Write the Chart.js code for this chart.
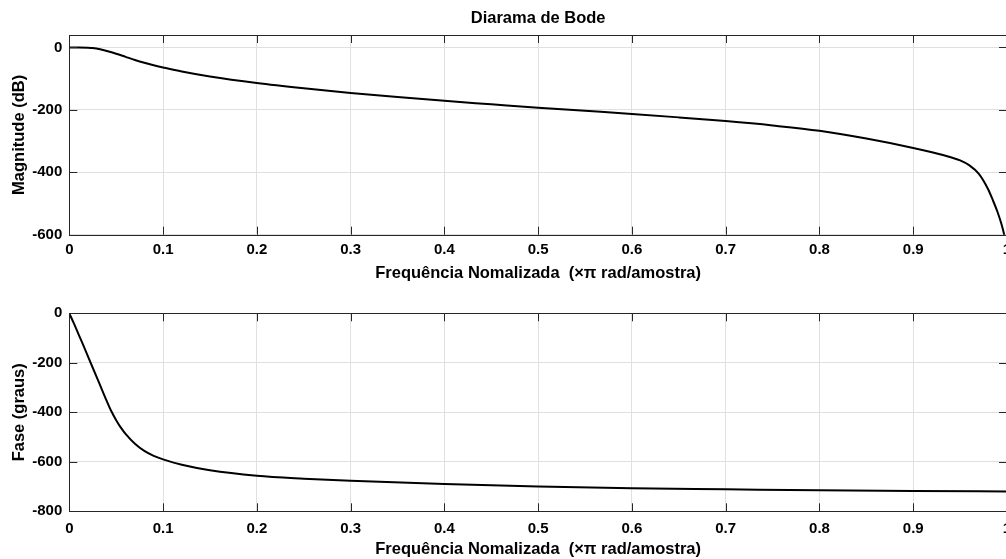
<!DOCTYPE html>
<html>
<head>
<meta charset="utf-8">
<script src="https://cdn.jsdelivr.net/npm/chart.js@4/dist/chart.umd.min.js"></script>
<style>
  html, body { margin: 0; padding: 0; background: #fff; overflow: hidden; width: 1006px; height: 559px; }
  .plot { position: absolute; left: 0; }
  #magWrap { top: 0; width: 1027px; height: 284px; }
  #phaseWrap { top: 280px; width: 1027px; height: 279px; }
</style>
</head>
<body>
<div id="magWrap" class="plot"><canvas id="magChart"></canvas></div>
<div id="phaseWrap" class="plot"><canvas id="phaseChart"></canvas></div>
<script>
// frequency response of the filter, x in units of pi rad/sample
const magFreq = [0, 0.01, 0.02, 0.025, 0.03, 0.035, 0.04, 0.05, 0.06, 0.07, 0.08, 0.09, 0.1, 0.12, 0.15,
  0.2, 0.25, 0.3, 0.35, 0.4, 0.45, 0.5, 0.55, 0.6, 0.65, 0.7, 0.75, 0.8, 0.85, 0.9, 0.92, 0.94, 0.95,
  0.96, 0.97, 0.98, 0.985, 0.99, 0.994, 0.997, 1.0];
const magDb = [0, 0, -0.5, -1.5, -4, -7, -11, -20, -30, -40, -49, -57, -64, -77, -93,
  -114, -131, -146, -159, -171, -182, -193, -203, -213, -224, -236, -250, -267, -292, -322, -336, -352, -362,
  -378, -405, -455, -490, -528, -565, -600, -650];

const phaseFreq = [0, 0.005, 0.01, 0.015, 0.02, 0.025, 0.03, 0.035, 0.04, 0.045, 0.05, 0.055, 0.06,
  0.07, 0.08, 0.09, 0.1, 0.12, 0.15, 0.2, 0.25, 0.3, 0.4, 0.5, 0.6, 0.7, 0.8, 0.9, 1.0];
const phaseDeg = [0, -42, -86, -130, -175, -220, -265, -310, -355, -397, -432, -462, -487,
  -527, -556, -576, -590, -612, -634, -656, -668, -677, -690, -700, -707, -711, -715, -718, -720];

const freqTicks = [0, 0.1, 0.2, 0.3, 0.4, 0.5, 0.6, 0.7, 0.8, 0.9, 1];
const freqLabels = ["0", "0.1", "0.2", "0.3", "0.4", "0.5", "0.6", "0.7", "0.8", "0.9", "1"];
const magTicks = [0, -200, -400, -600];
const phaseTicks = [0, -200, -400, -600, -800];

const xLabel = "Frequência Nomalizada  (\u00d7\u03c0 rad/amostra)";
const family = "'Liberation Sans', Arial, sans-serif";
const tickFont = { family: family, size: 15, weight: "bold" };
const labelFont = { family: family, size: 16.5, weight: "bold" };
const axisColor = "#262626";
const gridColor = "#e0e0e0";

// box around the axes plus inward tick marks on all four sides
const boxPlugin = {
  id: "box",
  afterDatasetsDraw(chart) {
    const { ctx, chartArea: a, scales } = chart;
    const tl = 8;
    ctx.save();
    ctx.strokeStyle = axisColor;
    ctx.lineWidth = 1;
    ctx.beginPath();
    scales.x.ticks.forEach(t => {
      const px = Math.round(scales.x.getPixelForValue(t.value)) + 0.5;
      ctx.moveTo(px, a.bottom); ctx.lineTo(px, a.bottom - tl);
      ctx.moveTo(px, a.top); ctx.lineTo(px, a.top + tl);
    });
    scales.y.ticks.forEach(t => {
      const py = Math.round(scales.y.getPixelForValue(t.value)) + 0.5;
      ctx.moveTo(a.left, py); ctx.lineTo(a.left + tl, py);
      ctx.moveTo(a.right, py); ctx.lineTo(a.right - tl, py);
    });
    ctx.stroke();
    ctx.strokeRect(Math.round(a.left) + 0.5, Math.round(a.top) + 0.5,
      Math.round(a.right - a.left), Math.round(a.bottom - a.top));
    ctx.restore();
  }
};

function makeChart(id, xs, ys, yMin, yMax, yTicks, yTitle, opts) {
  const ctx = document.getElementById(id).getContext("2d");
  return new Chart(ctx, {
    type: "line",
    data: {
      datasets: [{
        data: xs.map((x, i) => ({ x: x, y: ys[i] })),
        borderColor: "#000",
        borderWidth: 2,
        pointRadius: 0,
        cubicInterpolationMode: "monotone",
        fill: false
      }]
    },
    options: {
      animation: false,
      responsive: true,
      maintainAspectRatio: false,
      layout: { padding: opts.padding },
      plugins: {
        legend: { display: false },
        tooltip: { enabled: false },
        title: opts.title ? {
          display: true, text: opts.title, fullSize: false, color: "#000", font: labelFont,
          padding: { top: 8.1, bottom: 7.1 }
        } : { display: false }
      },
      scales: {
        x: {
          type: "linear", min: 0, max: 1,
          afterBuildTicks: s => { s.ticks = freqTicks.map(v => ({ value: v })); },
          afterFit: s => { s.height = opts.xHeight; },
          ticks: {
            color: "#000", font: tickFont, padding: opts.xTickPad, maxRotation: 0,
            callback: (v, i) => freqLabels[i]
          },
          grid: { color: gridColor, drawTicks: false },
          border: { display: false },
          title: { display: true, text: xLabel, color: "#000", font: labelFont, padding: { top: 0, bottom: opts.xTitlePad } }
        },
        y: {
          type: "linear", min: yMin, max: yMax,
          afterBuildTicks: s => { s.ticks = yTicks.map(v => ({ value: v })); },
          afterFit: s => { s.width = 69.3; },
          ticks: { color: "#000", font: tickFont, padding: 7 },
          grid: { color: gridColor, drawTicks: false },
          border: { display: false },
          title: { display: true, text: yTitle, color: "#000", font: labelFont, padding: { top: 9.1, bottom: 0 } }
        }
      }
    },
    plugins: [boxPlugin]
  });
}

makeChart("magChart", magFreq, magDb, -600, 40, magTicks, "Magnitude (dB)", {
  title: "Diarama de Bode",
  padding: { left: 0, right: 20, top: 0, bottom: 0 },
  xHeight: 49.3, xTickPad: 6.3, xTitlePad: 1.1
});

makeChart("phaseChart", phaseFreq, phaseDeg, -800, 0, phaseTicks, "Fase (graus)", {
  padding: { left: 0, right: 20, top: 33.3, bottom: 0 },
  xHeight: 47.7, xTickPad: 8.9, xTitlePad: 0.1
});
</script>
</body>
</html>
